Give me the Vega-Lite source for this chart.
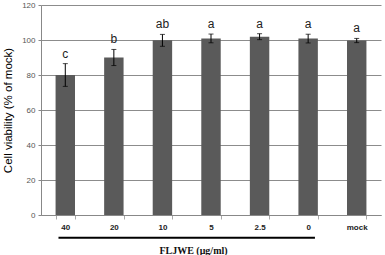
{
  "$schema": "https://vega.github.io/schema/vega-lite/v6.json",
  "autosize": "none",
  "width": 340,
  "height": 210,
  "padding": {"left": 41, "top": 5, "right": 4, "bottom": 40},
  "background": "white",
  "config": {
    "view": {"stroke": null},
    "font": "Liberation Sans",
    "axisY": {
      "titleFontSize": 11.5,
      "titleFontWeight": "normal",
      "titleColor": "#000",
      "titlePadding": 8,
      "tickCount": 6,
      "labelOverlap": false,
      "labelFontSize": 8,
      "labelColor": "#555",
      "labelPadding": 3,
      "tickSize": 3,
      "tickColor": "#888",
      "domainColor": "#888",
      "gridColor": "#8c8c8c",
      "gridWidth": 1
    }
  },
  "datasets": {
    "bars": [
      {"conc": "40", "viability": 80, "err": 6.5, "letter": "c"},
      {"conc": "20", "viability": 90, "err": 4.6, "letter": "b"},
      {"conc": "10", "viability": 99.8, "err": 3.4, "letter": "ab"},
      {"conc": "5", "viability": 100.9, "err": 2.5, "letter": "a"},
      {"conc": "2.5", "viability": 101.9, "err": 1.7, "letter": "a"},
      {"conc": "0", "viability": 100.8, "err": 2.5, "letter": "a"},
      {"conc": "mock", "viability": 99.7, "err": 1.2, "letter": "a"}
    ],
    "bracket": [{"from": "40", "to": "0", "level": -13}]
  },
  "encoding": {
    "x": {
      "field": "conc",
      "type": "nominal",
      "sort": null,
      "scale": {"domain": ["40", "20", "10", "5", "2.5", "0", "mock"], "paddingInner": 0.6, "paddingOuter": 0.3},
      "axis": {
        "title": "FLJWE (μg/ml)",
        "titleFont": "Liberation Serif",
        "titleFontWeight": "bold",
        "titleFontSize": 10,
        "titleColor": "#111",
        "titleX": 152,
        "titleY": 30,
        "titleBaseline": "top",
        "labelAngle": 0,
        "labelFontSize": 8,
        "labelFontWeight": "bold",
        "labelColor": "#222",
        "labelPadding": 4,
        "tickSize": 4,
        "tickBand": "extent",
        "tickColor": "#aaa",
        "domainColor": "#888",
        "grid": false
      }
    }
  },
  "layer": [
    {
      "data": {"name": "bars"},
      "mark": {"type": "bar", "color": "#5a5a5a"},
      "encoding": {
        "y": {
          "field": "viability",
          "type": "quantitative",
          "title": "Cell viability (% of mock)",
          "scale": {"domain": [0, 120]}
        }
      }
    },
    {
      "data": {"name": "bars"},
      "transform": [
        {"calculate": "datum.viability - datum.err", "as": "lo"},
        {"calculate": "datum.viability + datum.err", "as": "hi"}
      ],
      "mark": {"type": "errorbar", "ticks": {"size": 5, "color": "#000"}, "color": "#000", "thickness": 1},
      "encoding": {
        "y": {"field": "lo", "type": "quantitative", "title": "Cell viability (% of mock)"},
        "y2": {"field": "hi"}
      }
    },
    {
      "data": {"name": "bars"},
      "transform": [{"calculate": "datum.viability + datum.err", "as": "hi"}],
      "mark": {"type": "text", "baseline": "bottom", "dy": -3, "fontSize": 12, "fill": "#222"},
      "encoding": {
        "y": {"field": "hi", "type": "quantitative", "title": "Cell viability (% of mock)"},
        "text": {"field": "letter"}
      }
    },
    {
      "data": {"name": "bracket"},
      "mark": {"type": "rule", "color": "#000", "strokeWidth": 2},
      "encoding": {
        "x": {"field": "from", "type": "nominal", "bandPosition": 0.15},
        "x2": {"field": "to", "bandPosition": 0.85},
        "y": {"field": "level", "type": "quantitative", "title": "Cell viability (% of mock)"}
      }
    }
  ]
}
